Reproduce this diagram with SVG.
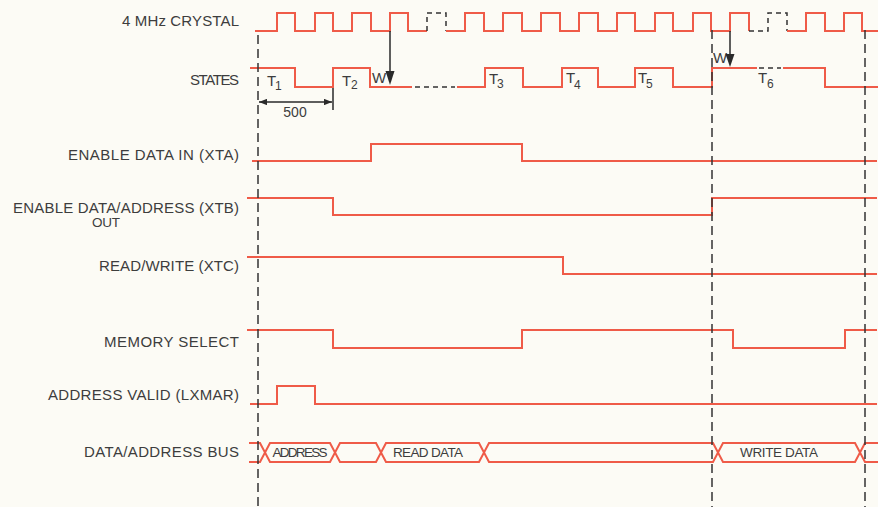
<svg xmlns="http://www.w3.org/2000/svg" width="878" height="507" viewBox="0 0 878 507">
<style>
.lbl{font-family:"Liberation Sans",Arial,sans-serif;font-size:15px;fill:#3d3d3d;text-anchor:end}
.sm{font-family:"Liberation Sans",Arial,sans-serif;font-size:13.5px;fill:#3d3d3d;text-anchor:middle}
.t{font-family:"Liberation Sans",Arial,sans-serif;font-size:15px;fill:#3d3d3d}
.ts{font-family:"Liberation Sans",Arial,sans-serif;font-size:12px;fill:#3d3d3d}
.sig{fill:none;stroke:#ef5b48;stroke-width:2}
.dsh{fill:none;stroke:#333;stroke-width:1.5;stroke-dasharray:5 4}
.grid{fill:none;stroke:#333;stroke-width:1.5;stroke-dasharray:9 5}
.blk{fill:none;stroke:#2a2a2a;stroke-width:1.5}
</style>
<defs>
<marker id="ah" viewBox="0 0 10 8" refX="10" refY="4" markerWidth="8" markerHeight="6.4" markerUnits="userSpaceOnUse" orient="auto-start-reverse">
<path d="M0,0 L10,4 L0,8 Z" fill="#2a2a2a"/>
</marker>
</defs>
<rect width="878" height="507" fill="#fcfbf5"/>

<g id="crystal">
<text class="lbl" x="239" y="26" textLength="117">4 MHz CRYSTAL</text>
<path class="sig" d="M255,31 H277 V13 H295 V31 H315 V13 H333 V31 H352 V13 H371 V31 H390 V13 H408 V31 H427"/>
<path class="dsh" d="M427,31 V13 H446 V31"/>
<path class="sig" d="M446,31 H465 V13 H484 V31 H503 V13 H522 V31 H541 V13 H560 V31 H579 V13 H598 V31 H617 V13 H635 V31 H655 V13 H673 V31 H693 V13 H711 V31 H730 V13 H749 V31"/>
<path class="dsh" d="M749,31 H768 V13 H787 V31"/>
<path class="sig" d="M787,31 H806 V13 H825 V31 H844 V13 H862 V31 H878"/>
</g>

<g id="states">
<text class="lbl" x="239" y="85" textLength="49">STATES</text>
<path class="sig" d="M250,68 H295 V87 H333 V68 H370 V87 H412"/>
<path class="dsh" d="M415,87 H455"/>
<path class="sig" d="M457,87 H485 V68 H523 V87 H562 V68 H598 V87 H635 V68 H673 V87 H712 V68 H757"/>
<path class="dsh" d="M759,68 H781"/>
<path class="sig" d="M783,68 H825 V87 H878"/>
<text class="t" x="267" y="86">T</text><text class="ts" x="275" y="90">1</text>
<text class="t" x="342" y="86">T</text><text class="ts" x="351" y="89">2</text>
<text class="t" x="489" y="84">T</text><text class="ts" x="497" y="88">3</text>
<text class="t" x="566" y="83">T</text><text class="ts" x="574" y="89">4</text>
<text class="t" x="638" y="83">T</text><text class="ts" x="646" y="88">5</text>
<text class="t" x="758" y="83">T</text><text class="ts" x="767" y="88">6</text>
<text class="t" x="372" y="83">W</text>
<text class="t" x="713" y="63">W</text>
</g>

<g id="xta">
<text class="lbl" x="239" y="160" textLength="171">ENABLE DATA IN (XTA)</text>
<path class="sig" d="M252,161 H371 V144 H522 V161 H877"/>
</g>

<g id="xtb">
<text class="lbl" x="239" y="213" textLength="226">ENABLE DATA/ADDRESS (XTB)</text>
<text class="lbl" x="120" y="227" style="font-size:13.5px" textLength="28">OUT</text>
<path class="sig" d="M247,198 H333 V215 H712 V198 H877"/>
</g>

<g id="xtc">
<text class="lbl" x="239" y="271" textLength="140">READ/WRITE (XTC)</text>
<path class="sig" d="M247,257 H563 V274 H877"/>
</g>

<g id="memsel">
<text class="lbl" x="239" y="347" textLength="135">MEMORY SELECT</text>
<path class="sig" d="M247,330 H333 V348 H522 V330 H733 V348 H845 V330 H877"/>
</g>

<g id="lxmar">
<text class="lbl" x="239" y="400" textLength="191">ADDRESS VALID (LXMAR)</text>
<path class="sig" d="M250,404 H277 V386 H315 V404 H877"/>
</g>

<g id="bus">
<text class="lbl" x="239" y="457" textLength="155">DATA/ADDRESS BUS</text>
<path class="sig" d="M249,443 H260 L270,462 H330 L340,443 H376 L386,462 H479 L489,443 H713 L723,462 H855 L865,443 H878"/>
<path class="sig" d="M249,462 H260 L270,443 H330 L340,462 H376 L386,443 H479 L489,462 H713 L723,443 H855 L865,462 H878"/>
<text class="sm" x="300" y="457" textLength="55">ADDRESS</text>
<text class="sm" x="428" y="457" textLength="70">READ DATA</text>
<text class="sm" x="779" y="457" textLength="78">WRITE DATA</text>
</g>

<g id="connectors">
<path class="grid" d="M258,35 V507"/>
<path class="grid" d="M712,30 V507"/>
<path class="grid" d="M865,30 V507"/>
<path class="blk" d="M390,31 V72"/>
<polygon points="385.5,71 394.5,71 390,85" fill="#2a2a2a"/>
<path class="blk" d="M730,31 V55"/>
<polygon points="725.5,54 734.5,54 730,67" fill="#2a2a2a"/>
<path class="blk" d="M259,102 H332" marker-start="url(#ah)" marker-end="url(#ah)"/>
<path class="blk" d="M333,88 V110"/>
<text class="sm" x="295" y="117" style="font-size:14px">500</text>
</g>
</svg>
